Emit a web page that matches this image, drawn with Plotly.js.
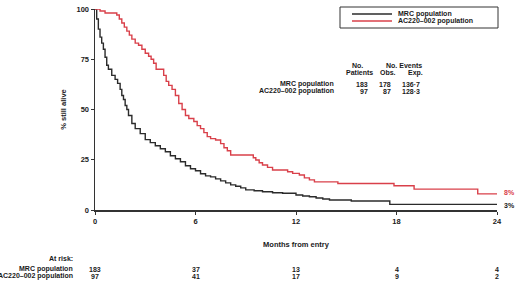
<!DOCTYPE html>
<html>
<head>
<meta charset="utf-8">
<script src="https://cdn.plot.ly/plotly-3.0.1.min.js"></script>
<style>html,body{margin:0;padding:0;background:#fff;}#chart{width:520px;height:284px;}</style>
</head>
<body>
<div id="chart"></div>
<script>
// ---- data ----
var seriesNames = ["MRC population", "AC220\u2013002 population"];
var mrcMonths = [0, 0.1, 0.2, 0.3, 0.4, 0.5, 0.6, 0.7, 0.8, 1.0, 1.2, 1.35, 1.5, 1.6, 1.7, 1.8, 1.9, 2.0, 2.2, 2.4, 2.7, 3.0, 3.3, 3.6, 3.9, 4.2, 4.5, 4.8, 5.1, 5.4, 5.7, 6.0, 6.3, 6.6, 6.9, 7.2, 7.5, 7.8, 8.1, 8.4, 8.7, 9.0, 9.5, 10.0, 10.6, 11.2, 12.0, 12.4, 12.8, 13.2, 13.6, 14.0, 15.3, 17.6, 24];
var mrcSurvival = [100, 95, 90, 86, 83, 80, 76, 72, 70, 67, 65, 63, 60, 57, 55, 52, 50, 47, 43, 40.5, 38, 35, 33.5, 32, 30.5, 29, 27, 25.5, 24, 22, 20.5, 19.5, 18, 17, 16.5, 15.5, 14.5, 13.5, 12.5, 11.8, 11, 10, 9.6, 9.1, 8.6, 8.3, 7.5, 7.0, 6.6, 6.0, 5.5, 5.0, 4.5, 2.8, 2.8];
var acMonths = [0, 0.3, 0.6, 1.3, 1.45, 1.6, 1.75, 1.9, 2.05, 2.2, 2.4, 2.6, 2.8, 3.0, 3.2, 3.35, 3.5, 3.65, 4.1, 4.25, 4.4, 4.6, 4.8, 5.0, 5.2, 5.4, 5.6, 5.9, 6.1, 6.3, 6.5, 6.7, 6.9, 7.2, 7.5, 7.7, 7.9, 8.1, 9.45, 9.6, 9.8, 10.0, 10.3, 10.6, 11.5, 11.8, 12.2, 12.5, 12.8, 13.1, 14.5, 17.85, 19.05, 22.85, 24];
var acSurvival = [100, 99, 98, 97, 95, 93, 91, 89, 87, 85, 83, 82, 80, 78, 76.5, 75, 73, 70, 67, 64, 62, 60, 57, 53, 50, 47, 45.5, 44, 42, 40.5, 38.5, 36.5, 35.5, 34.8, 33, 31, 29.5, 27.4, 26, 24.9, 23.5, 22.4, 21.2, 19.9, 19.0, 18.2, 17.4, 16, 15, 14, 13.2, 12.1, 10.4, 8.0, 8.0];
var endLabels = ["3%", "8%"];
var xTicks = [0, 6, 12, 18, 24];
var yTicks = [0, 25, 50, 75, 100];
var atRiskMonths = [0, 6, 12, 18, 24];
var atRiskMRC = [183, 37, 13, 4, 4];
var atRiskAC = [97, 41, 17, 9, 2];
var tableHeaders = ["No.", "Patients", "No. Events", "Obs.", "Exp."];
var tablePatients = ["183", "97"];
var tableObs = ["178", "87"];
var tableExp = ["136\u00b77", "128\u00b73"];

// ---- layout helpers (pixel -> paper) ----
var L = 95, R = 23, T = 9, B = 74, W = 520, H = 284;
var pw = W - L - R, ph = H - T - B;
function px(x) { return (x - L) / pw; }
function py(y) { return (H - B - y) / ph; }

var FONT = "Liberation Sans, Arial, sans-serif";
var TXT = "#1a1a1a";
var FS = 7;
var colors = ["#2b2b2b", "#d9404a"];

var traces = [
  {x: mrcMonths, y: mrcSurvival, name: seriesNames[0], type: "scatter", mode: "lines",
   line: {shape: "hv", color: colors[0], width: 1.4}, cliponaxis: false},
  {x: acMonths, y: acSurvival, name: seriesNames[1], type: "scatter", mode: "lines",
   line: {shape: "hv", color: colors[1], width: 1.4}, cliponaxis: false}
];

var ann = [];
function A(o) { o.showarrow = false; o.font = Object.assign({family: FONT, size: FS, color: TXT, weight: "bold"}, o.font || {}); ann.push(o); }

// end labels
A({xref: "x", yref: "y", x: 24, y: mrcSurvival[mrcSurvival.length - 1], text: endLabels[0], xanchor: "left", xshift: 5, yshift: -1});
A({xref: "x", yref: "y", x: 24, y: acSurvival[acSurvival.length - 1], text: endLabels[1], xanchor: "left", xshift: 5, yshift: 1, font: {color: colors[1]}});

// legend (custom box)
var shapes = [
  {type: "rect", xref: "paper", yref: "paper", x0: px(340), x1: px(498), y0: py(28), y1: py(7), line: {color: "#333", width: 1}, fillcolor: "#fff"},
  {type: "line", xref: "paper", yref: "paper", x0: px(352), x1: px(392), y0: py(14), y1: py(14), line: {color: colors[0], width: 1.4}},
  {type: "line", xref: "paper", yref: "paper", x0: px(352), x1: px(392), y0: py(21), y1: py(21), line: {color: colors[1], width: 1.4}}
];
A({xref: "paper", yref: "paper", x: px(396), y: py(14), text: seriesNames[0], xanchor: "left", yanchor: "middle"});
A({xref: "paper", yref: "paper", x: px(396), y: py(21), text: seriesNames[1], xanchor: "left", yanchor: "middle"});

// in-plot table
A({xref: "paper", yref: "paper", x: px(357), y: py(65), text: tableHeaders[0], xanchor: "center", yanchor: "middle"});
A({xref: "paper", yref: "paper", x: px(359), y: py(72.5), text: tableHeaders[1], xanchor: "center", yanchor: "middle"});
A({xref: "paper", yref: "paper", x: px(404), y: py(65), text: tableHeaders[2], xanchor: "center", yanchor: "middle"});
A({xref: "paper", yref: "paper", x: px(388), y: py(72.5), text: tableHeaders[3], xanchor: "center", yanchor: "middle"});
A({xref: "paper", yref: "paper", x: px(415), y: py(72.5), text: tableHeaders[4], xanchor: "center", yanchor: "middle"});
var rowY = [84, 91];
for (var i = 0; i < 2; i++) {
  A({xref: "paper", yref: "paper", x: px(336), y: py(rowY[i]), text: seriesNames[i], xanchor: "right", yanchor: "middle"});
  A({xref: "paper", yref: "paper", x: px(370), y: py(rowY[i]), text: tablePatients[i], xanchor: "right", yanchor: "middle"});
  A({xref: "paper", yref: "paper", x: px(393), y: py(rowY[i]), text: tableObs[i], xanchor: "right", yanchor: "middle"});
  A({xref: "paper", yref: "paper", x: px(422), y: py(rowY[i]), text: tableExp[i], xanchor: "right", yanchor: "middle"});
}

// at-risk table
A({xref: "paper", yref: "paper", x: px(75), y: py(258), text: "At risk:", xanchor: "right", yanchor: "middle"});
A({xref: "paper", yref: "paper", x: px(75), y: py(269), text: seriesNames[0], xanchor: "right", yanchor: "middle"});
A({xref: "paper", yref: "paper", x: px(75), y: py(276), text: seriesNames[1], xanchor: "right", yanchor: "middle"});
for (var j = 0; j < atRiskMonths.length; j++) {
  A({xref: "x", yref: "paper", x: atRiskMonths[j], y: py(269), text: String(atRiskMRC[j]), xanchor: "center", yanchor: "middle"});
  A({xref: "x", yref: "paper", x: atRiskMonths[j], y: py(276), text: String(atRiskAC[j]), xanchor: "center", yanchor: "middle"});
}

var tf = {family: FONT, size: 7.5, color: TXT, weight: "bold"};
var layout = {
  width: W, height: H,
  margin: {l: L, r: R, t: T, b: B, pad: 0},
  paper_bgcolor: "#fff", plot_bgcolor: "#fff",
  showlegend: false,
  font: {family: FONT, size: FS, color: TXT},
  xaxis: {
    range: [0, 24], tickvals: xTicks, ticktext: xTicks.map(String),
    showgrid: false, zeroline: false, showline: true, linecolor: "#333", linewidth: 1.5,
    ticks: "outside", ticklen: 3, tickwidth: 1, tickcolor: "#333",
    tickfont: tf,
    title: {text: "Months from entry", font: tf, standoff: 17},
    automargin: false, fixedrange: true
  },
  yaxis: {
    range: [0, 100], tickvals: yTicks, ticktext: yTicks.map(String),
    showgrid: false, zeroline: false, showline: true, linecolor: "#333", linewidth: 1.5,
    ticks: "outside", ticklen: 3, tickwidth: 1, tickcolor: "#333",
    tickfont: tf,
    title: {text: "% still alive", font: tf, standoff: 9},
    automargin: false, fixedrange: true
  },
  annotations: ann,
  shapes: shapes
};

Plotly.newPlot("chart", traces, layout, {displayModeBar: false, staticPlot: true});
</script>
</body>
</html>
